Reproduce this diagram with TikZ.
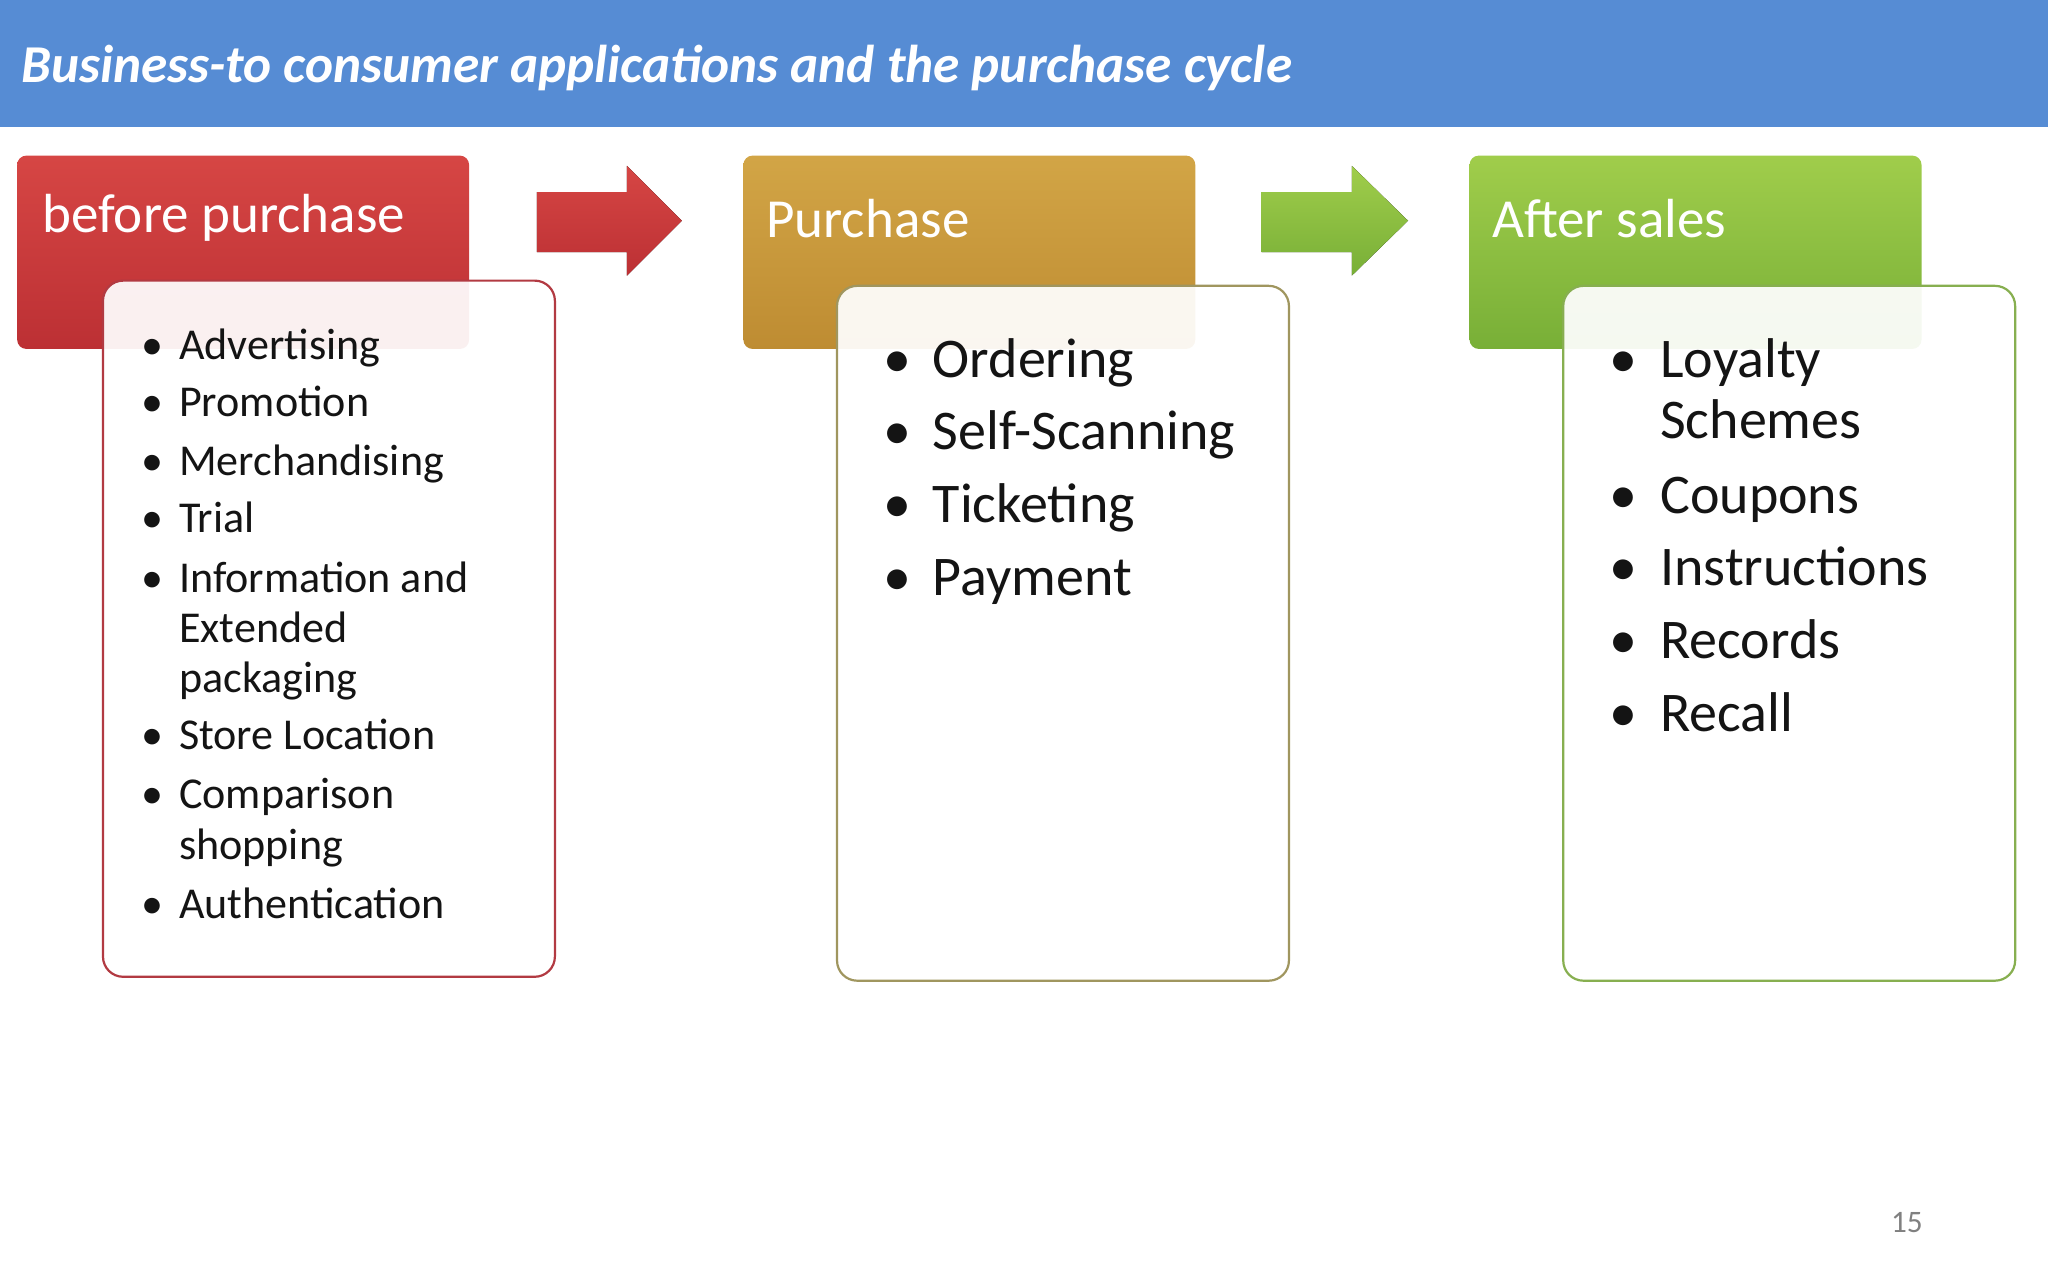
\documentclass[tikz,border=0pt]{standalone}
\usepackage{fontspec}
\setmainfont{Carlito}
\usetikzlibrary{shapes.arrows}
\definecolor{hdr}{RGB}{86,140,212}
\definecolor{redA}{RGB}{214,70,68}\definecolor{redB}{RGB}{188,48,52}\definecolor{redE}{RGB}{178,58,66}
\definecolor{golA}{RGB}{210,165,70}\definecolor{golB}{RGB}{190,140,50}\definecolor{golE}{RGB}{160,150,95}
\definecolor{grnA}{RGB}{160,205,75}\definecolor{grnB}{RGB}{120,175,55}\definecolor{grnE}{RGB}{135,175,80}
\definecolor{txt}{RGB}{20,20,20}
\tikzset{
 head/.style={rounded corners=10pt,minimum width=346*0.05cm,minimum height=148*0.05cm,anchor=north west,inner sep=0},
 body/.style={draw,line width=2.4pt,rounded corners=22pt,fill=white,fill opacity=0.93,anchor=north west,minimum width=346*0.05cm,inner sep=0},
 htext/.style={anchor=west,text=white,font=\fontsize{60}{70}\selectfont},
 itA/.style={anchor=base west,text=txt,font=\fontsize{48}{56}\selectfont,inner sep=0},
 itB/.style={anchor=base west,text=txt,font=\fontsize{61}{70}\selectfont,inner sep=0},
}
\begin{document}
\begin{tikzpicture}[x=0.05cm,y=-0.05cm]
\useasboundingbox (0,0) rectangle (1568,980);
\fill[hdr] (0,0) rectangle (1568,97);
\node[anchor=west,text=white,font=\fontsize{58}{66}\selectfont\bfseries\itshape] (title) at (14,52) {Business-to consumer applications and the purchase cycle};
% column 1
\node[head,top color=redA,bottom color=redB] (h1) at (13,119) {};
\node[htext] (h1t) at (30,167) {before purchase};
\node[body,draw=redE,minimum height=533*0.05cm] (b1) at (78,214) {};
\foreach \y/\t [count=\i] in {264/Advertising,308/Promotion,353/Merchandising,397/Trial,443/Information and,481/Extended,519/packaging,563/Store Location,608/Comparison,647/shopping,692/Authentication}{
  \node[itA] (a\i) at (137,\y+11) {\t};}
\foreach \y [count=\i] in {264,308,353,397,443,563,608,692}{
  \node[itA] (ab\i) at (108,\y+11) {\textbullet};}
% arrow 1
\fill[top color=redA,bottom color=redB] (411,147) -- (480,147) -- (480,127) -- (522,169) -- (480,211) -- (480,193) -- (411,193) -- cycle;
% column 2
\node[head,top color=golA,bottom color=golB] (h2) at (569,119) {};
\node[htext] (h2t) at (584,167) {Purchase};
\node[body,draw=golE,minimum height=532*0.05cm] (b2) at (640,218) {};
\foreach \y/\t [count=\i] in {276/Ordering,331/Self-Scanning,387/Ticketing,443/Payment}{
  \node[itB] (p\i) at (714,\y+13) {\t};
  \node[itB] (pb\i) at (676,\y+13) {\textbullet};}
% arrow 2
\fill[top color=grnA,bottom color=grnB] (966,147) -- (1035,147) -- (1035,127) -- (1078,169) -- (1035,211) -- (1035,193) -- (966,193) -- cycle;
% column 3
\node[head,top color=grnA,bottom color=grnB] (h3) at (1125,119) {};
\node[htext] (h3t) at (1140,167) {After sales};
\node[body,draw=grnE,minimum height=532*0.05cm] (b3) at (1196,218) {};
\foreach \y/\t [count=\i] in {276/Loyalty,323/Schemes,380/Coupons,435/Instructions,491/Records,547/Recall}{
  \node[itB] (s\i) at (1271,\y+13) {\t};}
\foreach \y [count=\i] in {276,380,435,491,547}{
  \node[itB] (sb\i) at (1232,\y+13) {\textbullet};}
\node[text=gray,font=\fontsize{34}{40}\selectfont] (pg) at (1460,936) {15};
\end{tikzpicture}
\end{document}
